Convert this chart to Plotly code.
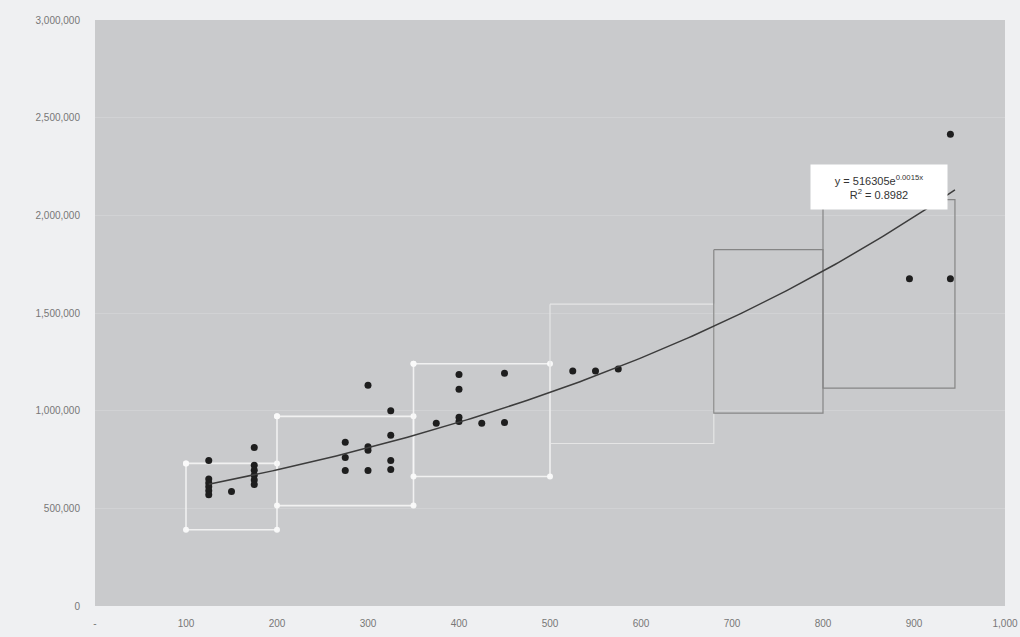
import numpy as np
import plotly.graph_objects as go

# Observed points (x, value)
pt_x = [125, 125, 125, 125, 125, 125,
        150,
        175, 175, 175, 175, 175, 175,
        275, 275, 275,
        300, 300, 300, 300,
        325, 325, 325, 325,
        375,
        400, 400, 400, 400,
        425,
        450, 450,
        525, 550, 575,
        895, 940, 940]
pt_y = [745000, 650000, 630000, 610000, 590000, 570000,
        586000,
        812000, 720000, 695000, 670000, 645000, 622000,
        838000, 760000, 694000,
        1130000, 815000, 797000, 694000,
        1000000, 874000, 745000, 699000,
        935000,
        1185000, 1110000, 966000, 945000,
        935000,
        1192000, 940000,
        1203000, 1203000, 1213000,
        1675000, 2415000, 1675000]

# Exponential trend y = a * exp(b x)
trend_a = 516305
trend_b = 0.0015
trend_r2 = 0.8982
trend_from, trend_to = 125, 945

# Range boxes per band: x from/to, value low/high
band_x0 = [100, 200, 350, 500, 680, 800]
band_x1 = [200, 350, 500, 680, 800, 945]
band_lo = [390000, 514000, 663000, 832000, 987000, 1115000]
band_hi = [730000, 971000, 1240000, 1545000, 1824000, 2080000]
band_color = ["rgba(245,245,245,0.9)", "rgba(245,245,245,0.9)", "rgba(245,245,245,0.9)",
              "rgba(232,232,232,0.9)", "#858585", "#858585"]
band_corner_dots = [True, True, True, False, False, False]

x_ticks = list(range(0, 1001, 100))
x_ticktext = ["-"] + [f"{v:,}" for v in x_ticks[1:]]
y_ticks = list(range(0, 3000001, 500000))
y_ticktext = [f"{v:,}" for v in y_ticks]

fig = go.Figure()

for x0, x1, lo, hi, col, dots in zip(band_x0, band_x1, band_lo, band_hi, band_color, band_corner_dots):
    fig.add_trace(go.Scatter(
        x=[x0, x1, x1, x0, x0], y=[hi, hi, lo, lo, hi],
        mode="lines+markers" if dots else "lines",
        line=dict(color=col, width=1.6 if dots else 1.2),
        marker=dict(color="rgba(250,250,250,0.95)", size=6),
        hoverinfo="skip", showlegend=False))

fig.add_trace(go.Scatter(
    x=pt_x, y=pt_y, mode="markers",
    marker=dict(color="#1e1e1e", size=7),
    showlegend=False))

tx = np.linspace(trend_from, trend_to, 200)
fig.add_trace(go.Scatter(
    x=tx, y=trend_a * np.exp(trend_b * tx), mode="lines",
    line=dict(color="#3c3c3c", width=1.5),
    hoverinfo="skip", showlegend=False))

fig.add_annotation(
    x=862, y=2143000, xref="x", yref="y",
    text=f"y = {trend_a}e<sup>{trend_b}x</sup><br>R<sup>2</sup> = {trend_r2}",
    showarrow=False, bgcolor="#ffffff", width=134, height=42,
    align="center", valign="middle",
    font=dict(family="Liberation Sans, Arial, sans-serif", size=11, color="#333333"))

fig.update_layout(
    width=1020, height=637,
    margin=dict(l=95, r=15, t=20, b=31),
    paper_bgcolor="#eff0f2",
    plot_bgcolor="#c9cacc",
    font=dict(family="Liberation Sans, Arial, sans-serif", size=10, color="#777777"),
    xaxis=dict(range=[0, 1000], tickvals=x_ticks, ticktext=x_ticktext,
               showgrid=False, zeroline=False, showline=False, automargin=False,
               ticks="", ticklabelstandoff=10),
    yaxis=dict(range=[0, 3000000], tickvals=y_ticks, ticktext=y_ticktext,
               showgrid=True, gridcolor="rgba(212,213,215,0.7)", gridwidth=1,
               zeroline=False, showline=False, automargin=False,
               ticks="", ticklabelstandoff=14),
)

fig.write_html("out.html")
